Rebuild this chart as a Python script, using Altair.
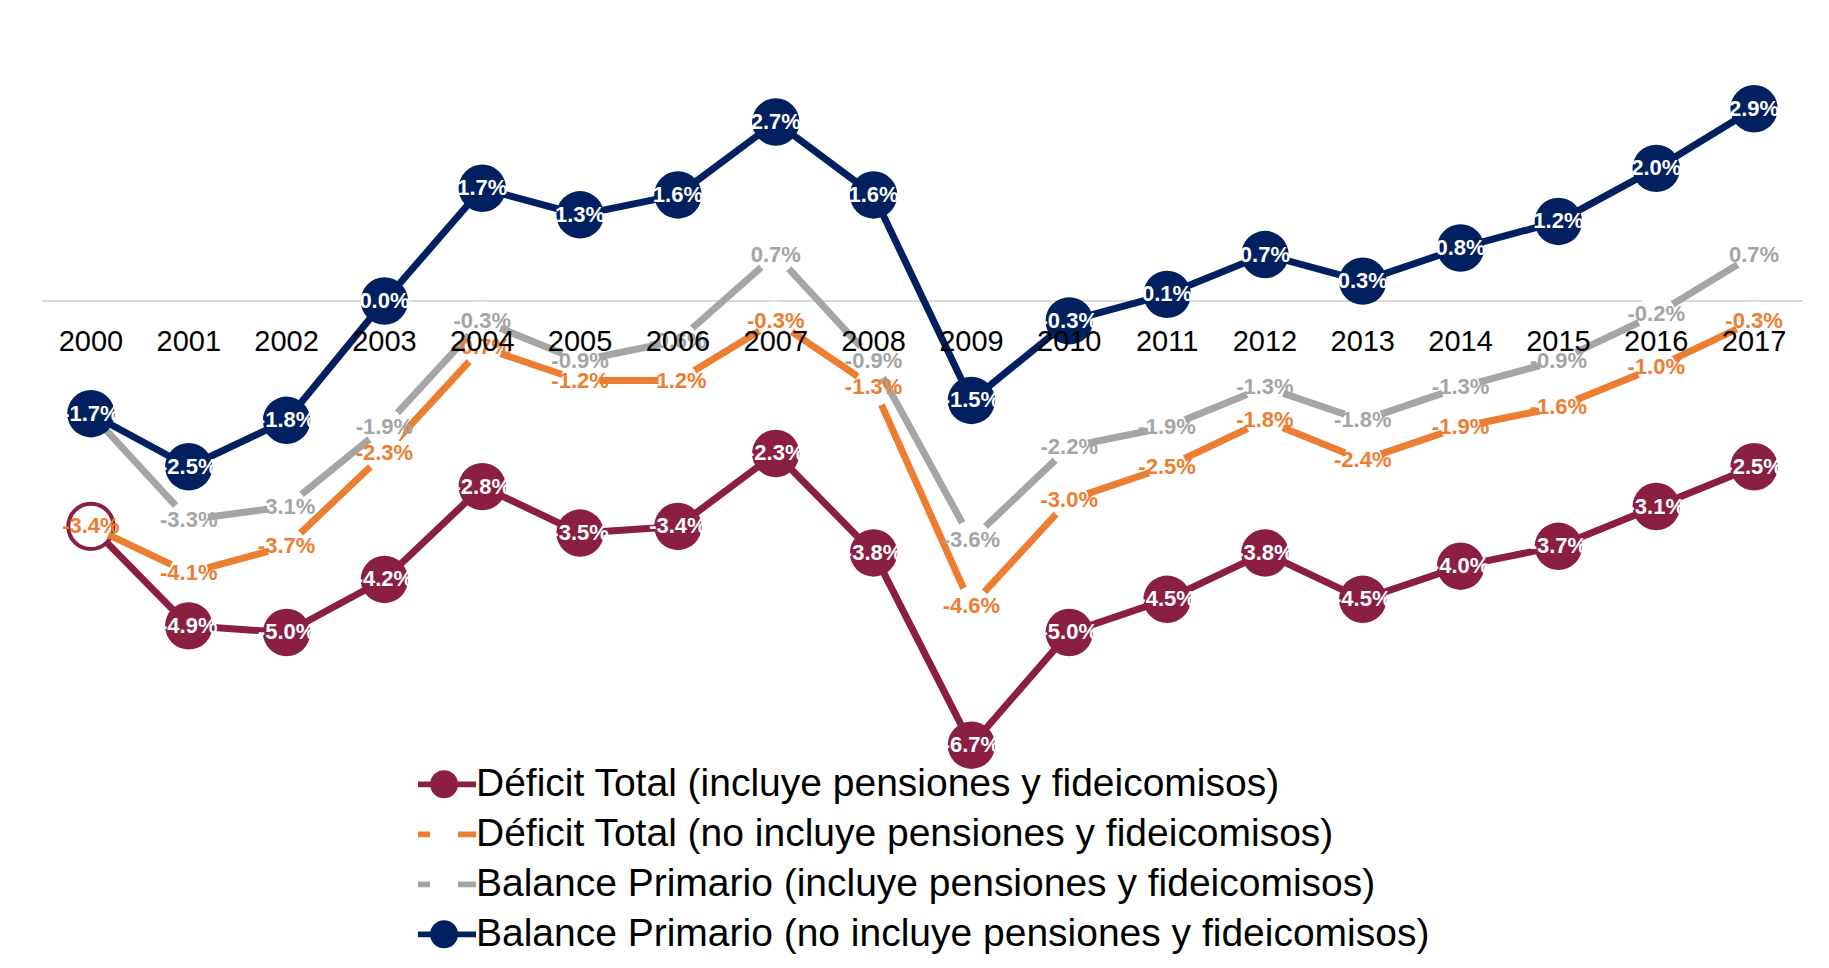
import altair as alt
import pandas as pd

# ---------------- data ----------------
years = list(range(2000, 2018))
deficit_incl = [-3.4, -4.9, -5.0, -4.2, -2.8, -3.5, -3.4, -2.3, -3.8, -6.7, -5.0, -4.5, -3.8, -4.5, -4.0, -3.7, -3.1, -2.5]
deficit_excl = [-3.4, -4.1, -3.7, -2.3, -0.7, -1.2, -1.2, -0.3, -1.3, -4.6, -3.0, -2.5, -1.8, -2.4, -1.9, -1.6, -1.0, -0.3]
primario_incl = [-1.7, -3.3, -3.1, -1.9, -0.3, -0.9, -0.6, 0.7, -0.9, -3.6, -2.2, -1.9, -1.3, -1.8, -1.3, -0.9, -0.2, 0.7]
primario_excl = [-1.7, -2.5, -1.8, 0.0, 1.7, 1.3, 1.6, 2.7, 1.6, -1.5, -0.3, 0.1, 0.7, 0.3, 0.8, 1.2, 2.0, 2.9]

series_names = [
    "Déficit Total (incluye pensiones y fideicomisos)",
    "Déficit Total (no incluye pensiones y fideicomisos)",
    "Balance Primario (incluye pensiones y fideicomisos)",
    "Balance Primario (no incluye pensiones y fideicomisos)",
]
series_values = [deficit_incl, deficit_excl, primario_incl, primario_excl]
colors = ["#8B1F41", "#ED7D31", "#A5A5A5", "#002060"]

hidden_labels = [(0, 2000), (2, 2000)]
hollow_points = [(0, 2000)]

FONT = "Liberation Sans"


def series_df(i):
    return pd.DataFrame({
        "year": years,
        "value": series_values[i],
        "label": [f"{v:.1f}%" for v in series_values[i]],
    })


# ---------------- scales ----------------
xs = alt.Scale(domain=[1999.5, 2017.5], nice=False, zero=False)
ys = alt.Scale(domain=[-8, 4], nice=False, zero=False)
X = alt.X("year:Q", scale=xs, axis=None)
Y = alt.Y("value:Q", scale=ys, axis=None)

layers = []
# zero line
layers.append(
    alt.Chart(pd.DataFrame({"value": [0]})).mark_rule(color="#D9D9D9", strokeWidth=2)
    .encode(y=Y)
)
# lines + markers, series by series
for i in range(4):
    d = series_df(i)
    layers.append(alt.Chart(d).mark_line(strokeWidth=7, color=colors[i], strokeJoin="round")
                  .encode(x=X, y=Y))
    hollow_years = [yr for (s, yr) in hollow_points if s == i]
    solid = d[~d["year"].isin(hollow_years)]
    hollow = d[d["year"].isin(hollow_years)]
    if i in (0, 3):
        layers.append(alt.Chart(solid).mark_circle(size=2250, opacity=1, color=colors[i])
                      .encode(x=X, y=Y))
        if len(hollow):
            layers.append(alt.Chart(hollow).mark_point(shape="circle", size=2050, filled=False,
                                                       fill="white", fillOpacity=1, stroke=colors[i],
                                                       strokeWidth=4, opacity=1)
                          .encode(x=X, y=Y))
    else:
        layers.append(alt.Chart(d).mark_circle(size=1520, opacity=1, color="white")
                      .encode(x=X, y=Y))

# data labels
for i in range(4):
    d = series_df(i)
    hide = [yr for (s, yr) in hidden_labels if s == i]
    d = d[~d["year"].isin(hide)]
    col = "white" if i in (0, 3) else colors[i]
    layers.append(alt.Chart(d).mark_text(font=FONT, fontSize=22, fontWeight="bold", color=col)
                  .encode(x=X, y=Y, text="label:N"))

# year labels
years_df = pd.DataFrame({"year": years, "value": [0] * len(years)})
layers.append(
    alt.Chart(years_df).mark_text(font=FONT, fontSize=29, color="black", dy=41)
    .encode(x=X, y=Y, text=alt.Text("year:Q", format="d"))
)

# legend (built from the series scale)
line_circle = "M-2,-0.2H2V0.2H-2Z M-0.2,-0.97A0.97,0.97 0 1,1 -0.2,0.97A0.97,0.97 0 1,1 -0.2,-0.97Z"
line_gap = "M-2,-0.2H-1.17V0.2H-2Z M0.76,-0.2H2V0.2H0.76Z"
paths = [line_circle, line_gap, line_gap, line_circle]
leg = alt.Legend(orient="none", legendX=385.5, legendY=729, title=None,
                 labelFont=FONT, labelFontSize=39, labelColor="black",
                 symbolSize=841, symbolStrokeWidth=0, symbolOpacity=1,
                 labelOffset=9.5, rowPadding=10, padding=0, labelLimit=3000)
legend_df = pd.DataFrame({"series": series_names})
layers.append(
    alt.Chart(legend_df).mark_point(filled=True, opacity=0, size=10)
    .encode(fill=alt.Fill("series:N", scale=alt.Scale(domain=series_names, range=colors), legend=leg),
            shape=alt.Shape("series:N", scale=alt.Scale(domain=series_names, range=paths), legend=leg))
)

chart = alt.layer(*layers).properties(
    width=1761, height=795.6,
    padding={"left": 34, "top": 27.8, "right": 18, "bottom": 128},
    autosize=alt.AutoSizeParams(type="none"),
    background="white",
).configure_view(stroke=None)

chart.save("out.html", embed_options={"renderer": "svg", "actions": False})
